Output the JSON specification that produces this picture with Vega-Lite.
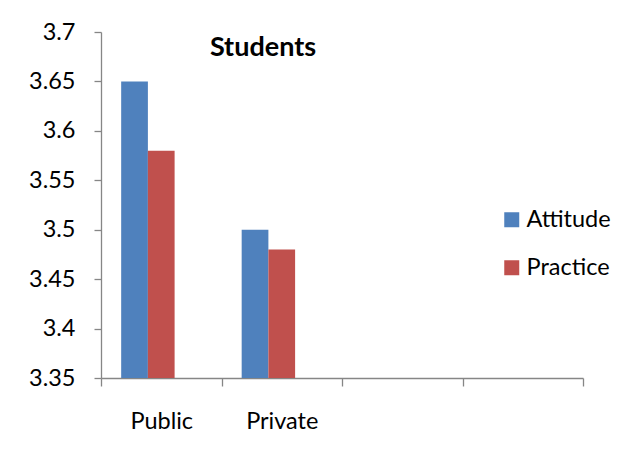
{
  "$schema": "https://vega.github.io/schema/vega-lite/v6.json",
  "width": 482,
  "height": 346,
  "autosize": {"type": "none"},
  "padding": {"left": 101, "top": 32, "right": 47, "bottom": 87},
  "background": "white",
  "config": {
    "view": {"stroke": null},
    "font": "Lato",
    "axis": {"grid": false, "domainColor": "#868686", "tickColor": "#868686", "labelColor": "#000000", "labelFont": "Lato", "labelFontSize": 23.5, "title": null, "domainWidth": 1.3, "tickWidth": 1.3}
  },
  "title": {"text": "Students", "font": "Lato", "fontSize": 27, "fontWeight": "bold", "color": "#000000", "anchor": "middle", "frame": "group", "dx": -79, "dy": 42, "offset": 0},
  "data": {
    "values": [
      {"school": "Public", "measure": "Attitude", "score": 3.65},
      {"school": "Public", "measure": "Practice", "score": 3.58},
      {"school": "Private", "measure": "Attitude", "score": 3.5},
      {"school": "Private", "measure": "Practice", "score": 3.48}
    ]
  },
  "mark": {"type": "bar", "clip": true},
  "encoding": {
    "x": {
      "field": "school", "type": "nominal",
      "scale": {"domain": ["Public", "Private", " ", "  "], "paddingInner": 0, "paddingOuter": 0},
      "axis": {"labelAngle": 0, "tickBand": "extent", "tickSize": 8, "labelPadding": 23}
    },
    "xOffset": {
      "field": "measure", "type": "nominal",
      "scale": {"domain": ["Attitude", "Practice", "Blank"], "paddingInner": 0, "paddingOuter": 0.755}
    },
    "y": {
      "field": "score", "type": "quantitative",
      "scale": {"domain": [3.35, 3.7], "zero": false, "nice": false},
      "axis": {"values": [3.35, 3.4, 3.45, 3.5, 3.55, 3.6, 3.65, 3.7], "format": ".2~f", "tickSize": 7, "labelPadding": 19}
    },
    "y2": {"datum": 3.35},
    "color": {
      "field": "measure", "type": "nominal",
      "scale": {"domain": ["Attitude", "Practice"], "range": ["#4F81BD", "#C0504D"]},
      "legend": {"title": null, "orient": "none", "legendX": 399, "legendY": 176, "symbolType": "square", "symbolSize": 225, "symbolStrokeWidth": 0, "labelFontSize": 23.5, "labelFont": "Lato", "labelColor": "#000000", "rowPadding": 23, "labelOffset": 3}
    }
  }
}
